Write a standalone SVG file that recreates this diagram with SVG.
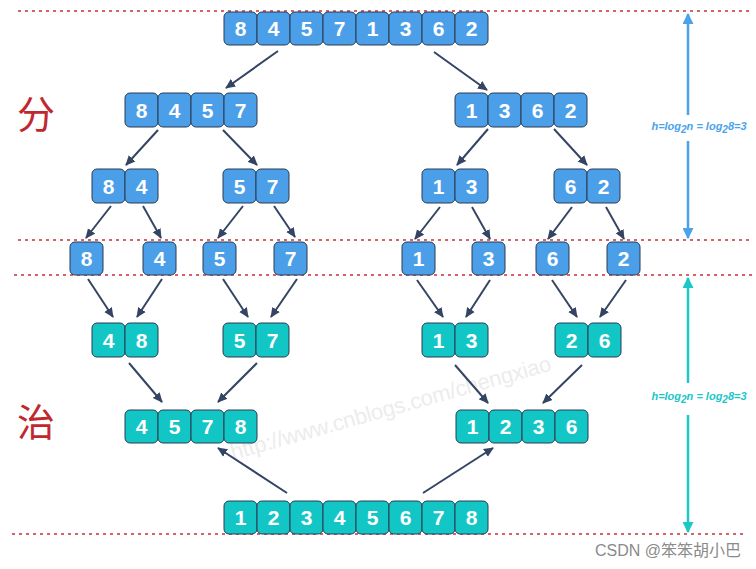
<svg xmlns="http://www.w3.org/2000/svg" width="756" height="569" viewBox="0 0 756 569">
<style>
.b{fill:#4b9fe9;stroke:#2b3b52;stroke-width:1}
.t{fill:#13c6c6;stroke:#2b3b52;stroke-width:1}
.n{font-family:"Liberation Sans",Arial,sans-serif;font-weight:bold;font-size:21px;fill:#fff;text-anchor:middle}
.red{stroke:#c8303a;stroke-width:1.6;stroke-dasharray:3 4;fill:none}
.arr{stroke:#344563;stroke-width:2;fill:none;marker-end:url(#ah)}
.cjk{font-family:"Noto Sans CJK SC",sans-serif;font-size:38px;fill:#c0282e}
.h{font-family:"Liberation Sans",Arial,sans-serif;font-weight:bold;font-style:italic;font-size:11px;text-anchor:middle}
</style>
<defs>
<marker id="ah" viewBox="0 0 10 10" refX="9" refY="5" markerWidth="5" markerHeight="5" orient="auto">
<path d="M0,0.5 L10,5 L0,9.5 z" fill="#344563"/>
</marker>
<marker id="hb" viewBox="0 0 10 10" refX="9" refY="5" markerWidth="4.4" markerHeight="4.4" orient="auto">
<path d="M0,0 L10,5 L0,10 z" fill="#4aa3ea"/>
</marker>
<marker id="ht" viewBox="0 0 10 10" refX="9" refY="5" markerWidth="4.4" markerHeight="4.4" orient="auto">
<path d="M0,0 L10,5 L0,10 z" fill="#1cc6c9"/>
</marker>
</defs>
<rect width="756" height="569" fill="#fff"/>
<text x="233" y="460" transform="rotate(-15.7 233 460)" font-family="Liberation Sans,Arial,sans-serif" font-size="22" fill="#ececec" textLength="332">http://www.cnblogs.com/chengxiao</text>
<g id="guides">
<line class="red" x1="18" y1="11" x2="752" y2="11"/>
<line class="red" x1="18" y1="240" x2="752" y2="240"/>
<line class="red" x1="14" y1="275" x2="752" y2="275"/>
<line class="red" x1="12" y1="534" x2="743" y2="534"/>
</g>
<text class="cjk" x="17" y="128">分</text>
<text class="cjk" x="17" y="436">治</text>
<g id="height-divide">
<line x1="688" y1="115" x2="688" y2="14" stroke="#4aa3ea" stroke-width="2.5" marker-end="url(#hb)"/>
<line x1="688" y1="141" x2="688" y2="238" stroke="#4aa3ea" stroke-width="2.5" marker-end="url(#hb)"/>
<text class="h" x="699" y="130" fill="#4aa3ea">h=log<tspan font-size="10" dy="3">2</tspan><tspan dy="-3">n = log</tspan><tspan font-size="10" dy="3">2</tspan><tspan dy="-3">8=3</tspan></text>
</g>
<g id="height-merge">
<line x1="688" y1="383" x2="688" y2="278" stroke="#1cc6c9" stroke-width="2.5" marker-end="url(#ht)"/>
<line x1="688" y1="415" x2="688" y2="532" stroke="#1cc6c9" stroke-width="2.5" marker-end="url(#ht)"/>
<text class="h" x="699" y="400" fill="#1cc6c9">h=log<tspan font-size="10" dy="3">2</tspan><tspan dy="-3">n = log</tspan><tspan font-size="10" dy="3">2</tspan><tspan dy="-3">8=3</tspan></text>
</g>
<g id="connectors">
<line class="arr" x1="278" y1="51" x2="226" y2="88"/>
<line class="arr" x1="434" y1="52" x2="487" y2="90"/>
<line class="arr" x1="158" y1="130" x2="126" y2="165"/>
<line class="arr" x1="223" y1="130" x2="257" y2="165"/>
<line class="arr" x1="488" y1="129" x2="457" y2="165"/>
<line class="arr" x1="554" y1="129" x2="587" y2="165"/>
<line class="arr" x1="111" y1="206" x2="86" y2="238"/>
<line class="arr" x1="143" y1="206" x2="161" y2="238"/>
<line class="arr" x1="243" y1="206" x2="218" y2="238"/>
<line class="arr" x1="274" y1="206" x2="295" y2="237"/>
<line class="arr" x1="440" y1="207" x2="415" y2="239"/>
<line class="arr" x1="472" y1="207" x2="490" y2="239"/>
<line class="arr" x1="572" y1="207" x2="548" y2="239"/>
<line class="arr" x1="606" y1="207" x2="624" y2="239"/>
<line class="arr" x1="88" y1="279" x2="113" y2="317"/>
<line class="arr" x1="162" y1="279" x2="137" y2="317"/>
<line class="arr" x1="223" y1="279" x2="248" y2="317"/>
<line class="arr" x1="297" y1="279" x2="271" y2="317"/>
<line class="arr" x1="417" y1="280" x2="443" y2="317"/>
<line class="arr" x1="490" y1="280" x2="466" y2="317"/>
<line class="arr" x1="552" y1="280" x2="577" y2="317"/>
<line class="arr" x1="626" y1="280" x2="600" y2="317"/>
<line class="arr" x1="129" y1="363" x2="162" y2="402"/>
<line class="arr" x1="257" y1="363" x2="218" y2="402"/>
<line class="arr" x1="455" y1="365" x2="488" y2="403"/>
<line class="arr" x1="582" y1="365" x2="543" y2="403"/>
<line class="arr" x1="287" y1="493" x2="218" y2="448"/>
<line class="arr" x1="423" y1="493" x2="493" y2="448"/>
</g>
<g id="n-84571362">
<rect class="b" x="224" y="12" width="33" height="33" rx="5"/><rect class="b" x="257" y="12" width="33" height="33" rx="5"/><rect class="b" x="290" y="12" width="33" height="33" rx="5"/><rect class="b" x="323" y="12" width="33" height="33" rx="5"/><rect class="b" x="356" y="12" width="33" height="33" rx="5"/><rect class="b" x="389" y="12" width="33" height="33" rx="5"/><rect class="b" x="422" y="12" width="33" height="33" rx="5"/><rect class="b" x="455" y="12" width="33" height="33" rx="5"/>
<text class="n" x="240.5" y="36">8</text><text class="n" x="273.5" y="36">4</text><text class="n" x="306.5" y="36">5</text><text class="n" x="339.5" y="36">7</text><text class="n" x="372.5" y="36">1</text><text class="n" x="405.5" y="36">3</text><text class="n" x="438.5" y="36">6</text><text class="n" x="471.5" y="36">2</text>
</g>
<g id="n-8457">
<rect class="b" x="125" y="93" width="33" height="34" rx="5"/><rect class="b" x="158" y="93" width="33" height="34" rx="5"/><rect class="b" x="191" y="93" width="33" height="34" rx="5"/><rect class="b" x="224" y="93" width="33" height="34" rx="5"/>
<text class="n" x="141.5" y="117.5">8</text><text class="n" x="174.5" y="117.5">4</text><text class="n" x="207.5" y="117.5">5</text><text class="n" x="240.5" y="117.5">7</text>
</g>
<g id="n-1362">
<rect class="b" x="455" y="93" width="33" height="34" rx="5"/><rect class="b" x="488" y="93" width="33" height="34" rx="5"/><rect class="b" x="521" y="93" width="33" height="34" rx="5"/><rect class="b" x="554" y="93" width="33" height="34" rx="5"/>
<text class="n" x="471.5" y="117.5">1</text><text class="n" x="504.5" y="117.5">3</text><text class="n" x="537.5" y="117.5">6</text><text class="n" x="570.5" y="117.5">2</text>
</g>
<g id="n-84">
<rect class="b" x="92" y="169" width="33" height="34" rx="5"/><rect class="b" x="125" y="169" width="33" height="34" rx="5"/>
<text class="n" x="108.5" y="193.5">8</text><text class="n" x="141.5" y="193.5">4</text>
</g>
<g id="n-57a">
<rect class="b" x="223" y="169" width="33" height="34" rx="5"/><rect class="b" x="256" y="169" width="33" height="34" rx="5"/>
<text class="n" x="239.5" y="193.5">5</text><text class="n" x="272.5" y="193.5">7</text>
</g>
<g id="n-13a">
<rect class="b" x="422" y="169" width="33" height="34" rx="5"/><rect class="b" x="455" y="169" width="33" height="34" rx="5"/>
<text class="n" x="438.5" y="193.5">1</text><text class="n" x="471.5" y="193.5">3</text>
</g>
<g id="n-62">
<rect class="b" x="554" y="169" width="33" height="34" rx="5"/><rect class="b" x="587" y="169" width="33" height="34" rx="5"/>
<text class="n" x="570.5" y="193.5">6</text><text class="n" x="603.5" y="193.5">2</text>
</g>
<g id="n-8"><rect class="b" x="70" y="242" width="33" height="33" rx="5"/><text class="n" x="86.5" y="266">8</text></g>
<g id="n-4"><rect class="b" x="143" y="242" width="33" height="33" rx="5"/><text class="n" x="159.5" y="266">4</text></g>
<g id="n-5"><rect class="b" x="203" y="242" width="33" height="33" rx="5"/><text class="n" x="219.5" y="266">5</text></g>
<g id="n-7"><rect class="b" x="274" y="242" width="33" height="33" rx="5"/><text class="n" x="290.5" y="266">7</text></g>
<g id="n-1"><rect class="b" x="402" y="242" width="33" height="33" rx="5"/><text class="n" x="418.5" y="266">1</text></g>
<g id="n-3"><rect class="b" x="472" y="242" width="33" height="33" rx="5"/><text class="n" x="488.5" y="266">3</text></g>
<g id="n-6"><rect class="b" x="536" y="242" width="33" height="33" rx="5"/><text class="n" x="552.5" y="266">6</text></g>
<g id="n-2"><rect class="b" x="607" y="242" width="33" height="33" rx="5"/><text class="n" x="623.5" y="266">2</text></g>
<g id="m-48">
<rect class="t" x="92" y="323" width="33" height="34" rx="5"/><rect class="t" x="125" y="323" width="33" height="34" rx="5"/>
<text class="n" x="108.5" y="347.5">4</text><text class="n" x="141.5" y="347.5">8</text>
</g>
<g id="m-57">
<rect class="t" x="223" y="323" width="33" height="34" rx="5"/><rect class="t" x="256" y="323" width="33" height="34" rx="5"/>
<text class="n" x="239.5" y="347.5">5</text><text class="n" x="272.5" y="347.5">7</text>
</g>
<g id="m-13">
<rect class="t" x="422" y="323" width="33" height="34" rx="5"/><rect class="t" x="455" y="323" width="33" height="34" rx="5"/>
<text class="n" x="438.5" y="347.5">1</text><text class="n" x="471.5" y="347.5">3</text>
</g>
<g id="m-26">
<rect class="t" x="555" y="323" width="33" height="34" rx="5"/><rect class="t" x="588" y="323" width="33" height="34" rx="5"/>
<text class="n" x="571.5" y="347.5">2</text><text class="n" x="604.5" y="347.5">6</text>
</g>
<g id="m-4578">
<rect class="t" x="125" y="410" width="33" height="33" rx="5"/><rect class="t" x="158" y="410" width="33" height="33" rx="5"/><rect class="t" x="191" y="410" width="33" height="33" rx="5"/><rect class="t" x="224" y="410" width="33" height="33" rx="5"/>
<text class="n" x="141.5" y="434">4</text><text class="n" x="174.5" y="434">5</text><text class="n" x="207.5" y="434">7</text><text class="n" x="240.5" y="434">8</text>
</g>
<g id="m-1236">
<rect class="t" x="456" y="410" width="33" height="33" rx="5"/><rect class="t" x="489" y="410" width="33" height="33" rx="5"/><rect class="t" x="522" y="410" width="33" height="33" rx="5"/><rect class="t" x="555" y="410" width="33" height="33" rx="5"/>
<text class="n" x="472.5" y="434">1</text><text class="n" x="505.5" y="434">2</text><text class="n" x="538.5" y="434">3</text><text class="n" x="571.5" y="434">6</text>
</g>
<g id="m-12345678">
<rect class="t" x="224" y="501" width="33" height="33" rx="5"/><rect class="t" x="257" y="501" width="33" height="33" rx="5"/><rect class="t" x="290" y="501" width="33" height="33" rx="5"/><rect class="t" x="323" y="501" width="33" height="33" rx="5"/><rect class="t" x="356" y="501" width="33" height="33" rx="5"/><rect class="t" x="389" y="501" width="33" height="33" rx="5"/><rect class="t" x="422" y="501" width="33" height="33" rx="5"/><rect class="t" x="455" y="501" width="33" height="33" rx="5"/>
<text class="n" x="240.5" y="525">1</text><text class="n" x="273.5" y="525">2</text><text class="n" x="306.5" y="525">3</text><text class="n" x="339.5" y="525">4</text><text class="n" x="372.5" y="525">5</text><text class="n" x="405.5" y="525">6</text><text class="n" x="438.5" y="525">7</text><text class="n" x="471.5" y="525">8</text>
</g>
<text x="741" y="556" text-anchor="end" font-family="Liberation Sans,Noto Sans CJK SC,sans-serif" font-size="16" fill="#8a8a8a">CSDN @笨笨胡小巴</text>
</svg>
